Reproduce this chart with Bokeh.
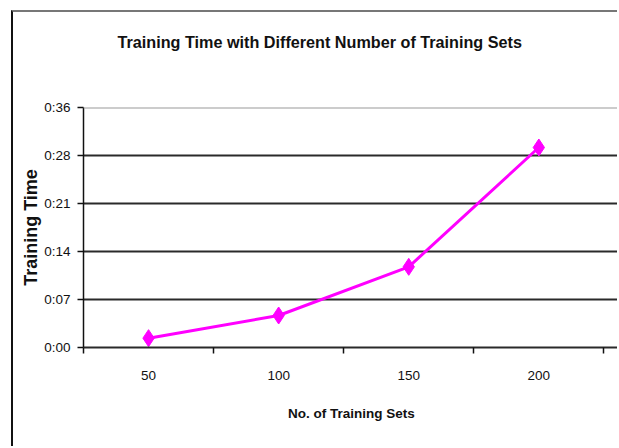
from bokeh.plotting import figure
from bokeh.models import Range1d, FixedTicker, Span, ColumnDataSource, Title
from bokeh.embed import file_html
from bokeh.resources import INLINE

categories = ["50", "100", "150", "200"]
training_time_s = [1.4, 4.8, 12.1, 30.0]
y_tick_values = [0, 7.2, 14.4, 21.6, 28.8, 36.0]
y_tick_labels = ["0:00", "0:07", "0:14", "0:21", "0:28", "0:36"]
title_text = "Training Time with Different Number of Training Sets"
x_label = "No. of Training Sets"
y_label = "Training Time"

x_pos = list(range(len(categories)))
src = ColumnDataSource(dict(x=x_pos, y=training_time_s))

FONT = "Liberation Sans"

p = figure(width=606, height=436,
           x_range=Range1d(-0.5, 3.62), y_range=Range1d(0, 36),
           output_backend="svg", toolbar_location=None,
           margin=(10, 0, 0, 11),
           min_border_left=70, min_border_right=0,
           min_border_top=95, min_border_bottom=101)
p.styles = {"border-left": "2px solid #111", "border-top": "2px solid #777"}
p.outline_line_color = None
p.background_fill_color = "white"
p.border_fill_color = "white"

# spacer between title and plot area
p.add_layout(Title(text=" ", text_font_size="10px", standoff=42), "above")

# title
p.title.text = title_text
p.title.align = "left"
p.title.offset = 34
p.title.vertical_align = "top"
p.title.standoff = 0
p.title.text_font = FONT
p.title.text_font_size = "16.2px"
p.title.text_font_style = "bold"
p.title.text_color = "#111"

# grid
p.xgrid.visible = False
p.ygrid.ticker = FixedTicker(ticks=y_tick_values)
p.ygrid.grid_line_color = "#2a2a2a"
p.ygrid.grid_line_width = 2
p.add_layout(Span(location=y_tick_values[-1], dimension="width",
                  line_color="#9a9a9a", line_width=2))

# x axis
xa = p.xaxis[0]
xa.ticker = FixedTicker(ticks=x_pos, minor_ticks=[i - 0.5 for i in range(len(categories) + 1)])
xa.major_label_overrides = {i: c for i, c in zip(x_pos, categories)}
xa.major_tick_out = 0
xa.major_tick_in = 0
xa.minor_tick_out = 6
xa.minor_tick_in = 0
xa.minor_tick_line_color = "#111"
xa.minor_tick_line_width = 1.5
xa.axis_line_color = "#2a2a2a"
xa.axis_line_width = 2
xa.major_label_standoff = 17
xa.major_label_text_font = FONT
xa.major_label_text_font_size = "13.5px"
xa.major_label_text_color = "#111"
xa.axis_label = x_label
xa.axis_label_text_font = FONT
xa.axis_label_text_font_size = "13.5px"
xa.axis_label_text_font_style = "bold"
xa.axis_label_text_color = "#111"
xa.axis_label_standoff = 23

# y axis
ya = p.yaxis[0]
ya.ticker = FixedTicker(ticks=y_tick_values)
ya.major_label_overrides = {v: l for v, l in zip(y_tick_values, y_tick_labels)}
ya.minor_tick_line_color = None
ya.major_tick_out = 6
ya.major_tick_in = 0
ya.major_tick_line_color = "#111"
ya.major_tick_line_width = 1.5
ya.axis_line_color = "#111"
ya.axis_line_width = 1.5
ya.major_label_standoff = 7
ya.major_label_text_font = FONT
ya.major_label_text_font_size = "13.5px"
ya.major_label_text_color = "#111"
ya.axis_label = y_label
ya.axis_label_text_font = FONT
ya.axis_label_text_font_size = "18px"
ya.axis_label_text_font_style = "bold"
ya.axis_label_text_color = "#111"
ya.axis_label_standoff = 0

# data
p.line("x", "y", source=src, line_color="#FF00FF", line_width=3)
p.scatter("x", "y", source=src, marker="diamond", size=17,
          fill_color="#FF00FF", line_color="#FF00FF")

open("out.html", "w").write(file_html(p, INLINE))
